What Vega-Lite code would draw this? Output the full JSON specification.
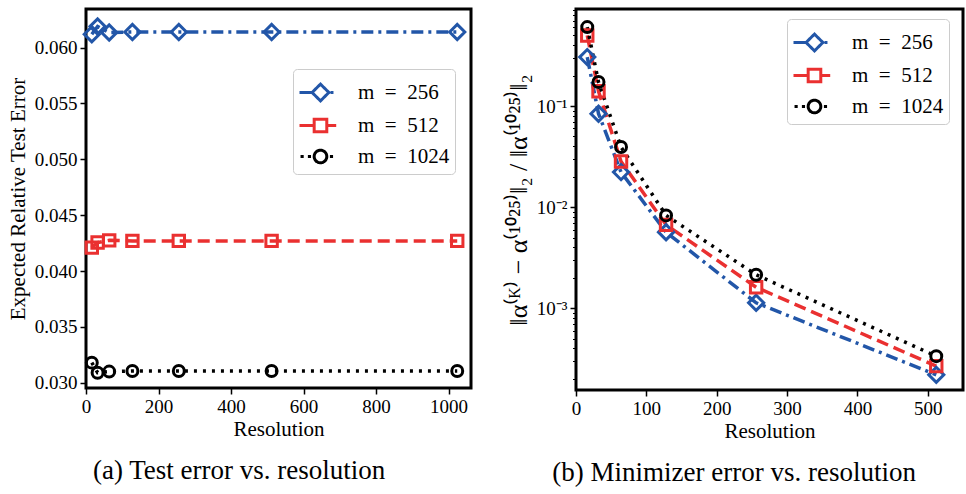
{
  "$schema": "https://vega.github.io/schema/vega-lite/v6.json",
  "background": "white",
  "padding": {"left": 5, "top": 7, "right": 3, "bottom": 5},
  "datasets": {
    "test": [
      {"res": 16, "err": 0.0612, "m": 256}, {"res": 32, "err": 0.0619, "m": 256}, {"res": 64, "err": 0.06135, "m": 256},
      {"res": 128, "err": 0.0614, "m": 256}, {"res": 256, "err": 0.0614, "m": 256}, {"res": 512, "err": 0.0614, "m": 256}, {"res": 1024, "err": 0.0614, "m": 256},
      {"res": 16, "err": 0.0421, "m": 512}, {"res": 32, "err": 0.04255, "m": 512}, {"res": 64, "err": 0.04275, "m": 512},
      {"res": 128, "err": 0.0427, "m": 512}, {"res": 256, "err": 0.0427, "m": 512}, {"res": 512, "err": 0.0427, "m": 512}, {"res": 1024, "err": 0.0427, "m": 512},
      {"res": 16, "err": 0.0318, "m": 1024}, {"res": 32, "err": 0.0309, "m": 1024}, {"res": 64, "err": 0.031, "m": 1024},
      {"res": 128, "err": 0.03105, "m": 1024}, {"res": 256, "err": 0.03105, "m": 1024}, {"res": 512, "err": 0.03105, "m": 1024}, {"res": 1024, "err": 0.03105, "m": 1024}
    ],
    "minimizer": [
      {"res": 16, "err": 0.305, "m": 256}, {"res": 32, "err": 0.084, "m": 256}, {"res": 64, "err": 0.0222, "m": 256},
      {"res": 128, "err": 0.00565, "m": 256}, {"res": 256, "err": 0.00113, "m": 256}, {"res": 512, "err": 0.000219, "m": 256},
      {"res": 16, "err": 0.5, "m": 512}, {"res": 32, "err": 0.14, "m": 512}, {"res": 64, "err": 0.0283, "m": 512},
      {"res": 128, "err": 0.00668, "m": 512}, {"res": 256, "err": 0.00161, "m": 512}, {"res": 512, "err": 0.000267, "m": 512},
      {"res": 16, "err": 0.605, "m": 1024}, {"res": 32, "err": 0.173, "m": 1024}, {"res": 64, "err": 0.0393, "m": 1024},
      {"res": 128, "err": 0.00828, "m": 1024}, {"res": 256, "err": 0.00214, "m": 1024}, {"res": 512, "err": 0.000335, "m": 1024}
    ]
  },
  "config": {
    "font": "Liberation Serif",
    "view": {"stroke": "black", "strokeWidth": 3},
    "legend": {
      "labelFont": "Liberation Serif", "labelFontSize": 21, "labelColor": "black",
      "strokeColor": "#cccccc", "cornerRadius": 4, "fillColor": "rgba(255,255,255,0.85)", "padding": 5,
      "symbolStrokeWidth": 3, "symbolSize": 1100, "labelOffset": 23, "rowPadding": -4
    },
    "title": {"fontSize": 27, "fontWeight": "normal", "font": "Liberation Serif", "color": "black"},
    "concat": {"spacing": 30}
  },
  "resolve": {"scale": {"color": "independent"}, "legend": {"color": "independent"}},
  "hconcat": [
    {
      "width": 385, "height": 379,
      "title": {"text": "(a) Test error vs. resolution", "orient": "bottom", "anchor": "middle", "frame": "bounds", "offset": 19},
      "data": {"name": "test"},
      "encoding": {
        "x": {"field": "res", "type": "quantitative", "scale": {"domain": [0, 1062], "nice": false, "zero": false},
              "axis": {"title": "Resolution", "values": [0, 200, 400, 600, 800, 1000], "format": "d",
                       "grid": false, "domain": false, "tickColor": "black", "tickWidth": 1.5, "tickSize": 6,
                       "labelFontSize": 19, "labelColor": "black", "labelFont": "Liberation Serif", "labelPadding": 3, "labelFlush": false,
                       "titleFontSize": 21, "titleFontWeight": "normal", "titleColor": "black", "titleFont": "Liberation Serif", "titlePadding": 2}},
        "y": {"field": "err", "type": "quantitative", "scale": {"domain": [0.02953, 0.06346], "nice": false, "zero": false},
              "axis": {"title": "Expected Relative Test Error", "values": [0.03, 0.035, 0.04, 0.045, 0.05, 0.055, 0.06], "format": ".3f",
                       "grid": false, "domain": false, "tickColor": "black", "tickWidth": 1.5, "tickSize": 6,
                       "labelFontSize": 19, "labelColor": "black", "labelFont": "Liberation Serif", "labelPadding": 3,
                       "titleFontSize": 21, "titleFontWeight": "normal", "titleColor": "black", "titleFont": "Liberation Serif", "titlePadding": 6}},
        "color": {"field": "m", "type": "nominal", "scale": {"domain": [256, 512, 1024], "range": ["#2256a8", "#ea3030", "#000000"]},
                  "legend": {"title": null, "orient": "none", "legendX": 207, "legendY": 60, "labelExpr": "'m\u2002=\u2002' + datum.label",
                             "labelFont": "Liberation Serif", "labelFontSize": 21, "symbolSize": 1100,
                             "encode": {"symbols": {"update": {
                               "shape": {"signal": "datum.value == 256 ? 'M-1.025,0L-0.266,0M0.847,0L1.024,0M0.24,-0.506L0.746,0L0.24,0.506L-0.266,0Z' : datum.value == 512 ? 'M-1.025,0L-0.14,0M0.62,0L1.189,0M-0.14,-0.38L0.62,-0.38L0.62,0.38L-0.14,0.38Z' : 'M-0.962,0L-0.772,0M-0.519,0L-0.329,0M0.809,0L0.999,0M-0.14,0A0.38,0.38,0,1,1,0.62,0A0.38,0.38,0,1,1,-0.14,0Z'"},
                               "fill": {"value": "transparent"}, "size": {"value": 1100}, "strokeDash": {"value": [1, 0]}, "strokeWidth": {"value": 3}}}}}}
      },
      "layer": [
        {"transform": [{"filter": "datum.m == 256"}], "mark": {"type": "line", "strokeWidth": 3.5, "strokeDash": [12, 5, 3, 5]}},
        {"transform": [{"filter": "datum.m == 512"}], "mark": {"type": "line", "strokeWidth": 3.5, "strokeDash": [12, 6]}},
        {"transform": [{"filter": "datum.m == 1024"}], "mark": {"type": "line", "strokeWidth": 3.5, "strokeDash": [3, 6]}},
        {"transform": [{"filter": "datum.m == 256"}], "mark": {"type": "point", "shape": "diamond", "size": 230, "filled": false, "strokeWidth": 3, "opacity": 1}},
        {"transform": [{"filter": "datum.m == 512"}], "mark": {"type": "point", "shape": "square", "size": 130, "filled": false, "strokeWidth": 3, "opacity": 1}},
        {"transform": [{"filter": "datum.m == 1024"}], "mark": {"type": "point", "shape": "circle", "size": 120, "filled": false, "strokeWidth": 3, "opacity": 1}}
      ]
    },
    {
      "width": 387, "height": 381,
      "title": {"text": "(b) Minimizer error vs. resolution", "orient": "bottom", "anchor": "middle", "frame": "bounds", "offset": 19},
      "data": {"name": "minimizer"},
      "encoding": {
        "x": {"field": "res", "type": "quantitative", "scale": {"domain": [0, 550], "nice": false, "zero": false},
              "axis": {"title": "Resolution", "values": [0, 100, 200, 300, 400, 500], "format": "d",
                       "grid": false, "domain": false, "tickColor": "black", "tickWidth": 1.5, "tickSize": 6,
                       "labelFontSize": 19, "labelColor": "black", "labelFont": "Liberation Serif", "labelPadding": 3, "labelFlush": false,
                       "titleFontSize": 21, "titleFontWeight": "normal", "titleColor": "black", "titleFont": "Liberation Serif", "titlePadding": 2}},
        "y": {"field": "err", "type": "quantitative", "scale": {"type": "log", "domain": [0.000155, 0.913], "nice": false},
              "axis": {"title": "‖α⁽ᴷ⁾ − α⁽¹⁰²⁵⁾‖₂ / ‖α⁽¹⁰²⁵⁾‖₂", "labelOverlap": false,
                       "grid": false, "domain": false, "tickColor": "black",
                       "labelColor": "black", "labelFont": "Liberation Serif", "labelPadding": 3,
                       "titleFontSize": 26, "titleFontWeight": "normal", "titleColor": "black", "titleFont": "Liberation Serif", "titlePadding": 5,
                       "values": [0.0002, 0.0003, 0.0004, 0.0005, 0.0006, 0.0007, 0.0008, 0.0009, 0.001, 0.002, 0.003, 0.004, 0.005, 0.006, 0.007, 0.008, 0.009, 0.01, 0.02, 0.03, 0.04, 0.05, 0.06, 0.07, 0.08, 0.09, 0.1, 0.2, 0.3, 0.4, 0.5, 0.6, 0.7, 0.8, 0.9],
                       "labelExpr": "abs(log(datum.value)/LN10 - round(log(datum.value)/LN10)) < 0.001 ? (round(log(datum.value)/LN10) == -1 ? '10⁻¹' : round(log(datum.value)/LN10) == -2 ? '10⁻²' : '10⁻³') : ''",
                       "labelFontSize": {"condition": {"test": "abs(log(datum.value)/LN10 - round(log(datum.value)/LN10)) < 0.001", "value": 19}, "value": 0},
                       "tickSize": {"condition": {"test": "abs(log(datum.value)/LN10 - round(log(datum.value)/LN10)) < 0.001", "value": 6}, "value": 3.5},
                       "tickWidth": {"condition": {"test": "abs(log(datum.value)/LN10 - round(log(datum.value)/LN10)) < 0.001", "value": 1.5}, "value": 1}}},
        "color": {"field": "m", "type": "nominal", "scale": {"domain": [256, 512, 1024], "range": ["#2256a8", "#ea3030", "#000000"]},
                  "legend": {"title": null, "orient": "none", "legendX": 211, "legendY": 10, "labelExpr": "'m\u2002=\u2002' + datum.label",
                             "labelFont": "Liberation Serif", "labelFontSize": 21, "symbolSize": 1100,
                             "encode": {"symbols": {"update": {
                               "shape": {"signal": "datum.value == 256 ? 'M-1.025,0L-0.266,0M0.847,0L1.024,0M0.24,-0.506L0.746,0L0.24,0.506L-0.266,0Z' : datum.value == 512 ? 'M-1.025,0L-0.14,0M0.62,0L1.189,0M-0.14,-0.38L0.62,-0.38L0.62,0.38L-0.14,0.38Z' : 'M-0.962,0L-0.772,0M-0.519,0L-0.329,0M0.809,0L0.999,0M-0.14,0A0.38,0.38,0,1,1,0.62,0A0.38,0.38,0,1,1,-0.14,0Z'"},
                               "fill": {"value": "transparent"}, "size": {"value": 1100}, "strokeDash": {"value": [1, 0]}, "strokeWidth": {"value": 3}}}}}}
      },
      "layer": [
        {"transform": [{"filter": "datum.m == 256"}], "mark": {"type": "line", "strokeWidth": 3.5, "strokeDash": [12, 5, 3, 5]}},
        {"transform": [{"filter": "datum.m == 512"}], "mark": {"type": "line", "strokeWidth": 3.5, "strokeDash": [12, 6]}},
        {"transform": [{"filter": "datum.m == 1024"}], "mark": {"type": "line", "strokeWidth": 3.5, "strokeDash": [3, 6]}},
        {"transform": [{"filter": "datum.m == 256"}], "mark": {"type": "point", "shape": "diamond", "size": 230, "filled": false, "strokeWidth": 3, "opacity": 1}},
        {"transform": [{"filter": "datum.m == 512"}], "mark": {"type": "point", "shape": "square", "size": 130, "filled": false, "strokeWidth": 3, "opacity": 1}},
        {"transform": [{"filter": "datum.m == 1024"}], "mark": {"type": "point", "shape": "circle", "size": 120, "filled": false, "strokeWidth": 3, "opacity": 1}}
      ]
    }
  ]
}
